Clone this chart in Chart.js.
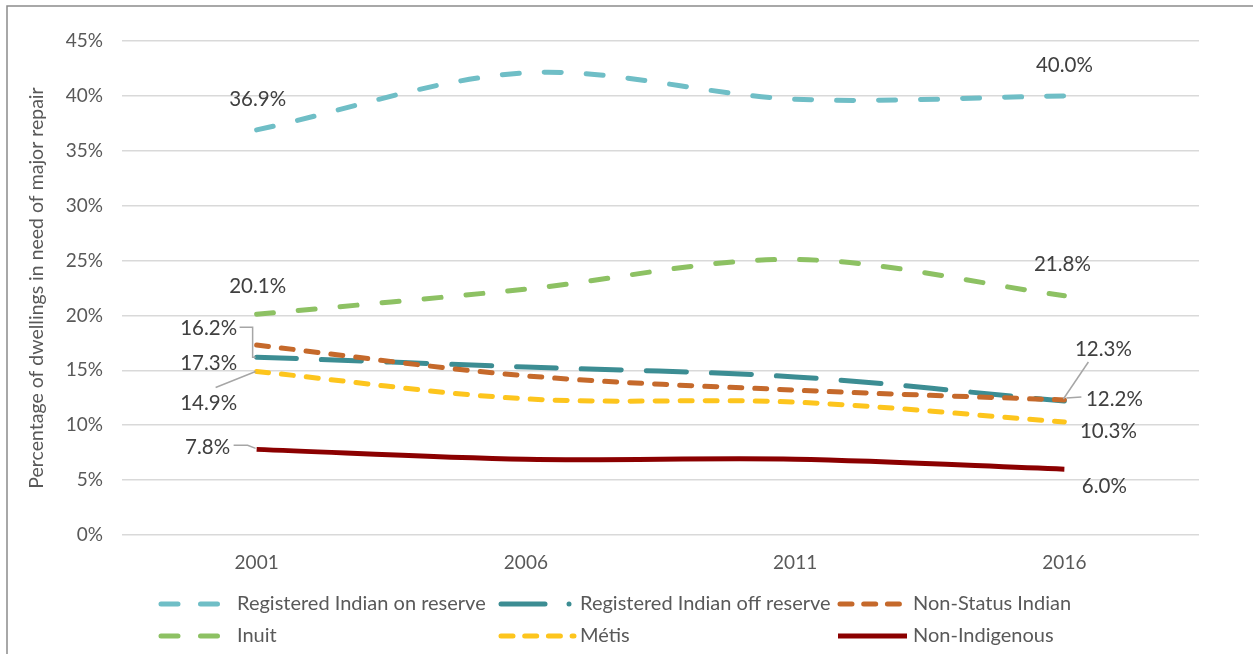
<!DOCTYPE html>
<html>
<head>
<meta charset="utf-8">
<script src="https://cdn.jsdelivr.net/npm/chart.js@4.4.1/dist/chart.umd.min.js"></script>
<style>
  html, body { margin: 0; padding: 0; background: #fff; }
  #wrap { width: 1253px; height: 654px; position: relative; }
</style>
</head>
<body>
<div id="wrap"><canvas id="chart"></canvas></div>
<script>
// data
const years = ['2001', '2006', '2011', '2016'];
const seriesNames = [
  'Registered Indian on reserve',
  'Registered Indian off reserve',
  'Non-Status Indian',
  'Inuit',
  'Métis',
  'Non-Indigenous'
];
const onReserve     = [36.9, 42.1, 39.7, 40.0];
const offReserve    = [16.2, 15.3, 14.4, 12.2];
const nonStatus     = [17.3, 14.5, 13.2, 12.3];
const inuit         = [20.1, 22.4, 25.1, 21.8];
const metis         = [14.9, 12.4, 12.1, 10.3];
const nonIndigenous = [7.8, 6.9, 6.9, 6.0];
const yTicks = [0, 5, 10, 15, 20, 25, 30, 35, 40, 45];

const FONT = 'Lato';
const TEXT = '#595959';

// line looks per series
const looks = [
  { color: '#6FBEC6', dash: [17, 25] },
  { color: '#3C8D93', dash: [40, 25], dot: true },
  { color: '#C5692B', dash: [12, 13] },
  { color: '#8DC163', dash: [17, 25] },
  { color: '#FDC51D', dash: [12, 13] },
  { color: '#8B0000', dash: [] }
];

// label offsets from the first / last point, with optional leader lines
const labelPlace = [
  { first: { dx: 1, dy: -31 }, last: { dx: 0, dy: -30 } },
  { first: { dx: -48, dy: -29, leader: [[-17, -30], [-4, -30], [-4, 0], [-1, 0]] },
    last: { dx: 50, dy: -2, leader: [[2, -3], [17, -4]] } },
  { first: { dx: -48, dy: 18 },
    last: { dx: 39, dy: -51, leader: [[24, -38], [-1, -1]] } },
  { first: { dx: 1, dy: -28 }, last: { dx: -2, dy: -31 } },
  { first: { dx: -48, dy: 32, leader: [[-41, 16], [-1, 0]] }, last: { dx: 44, dy: 9 } },
  { first: { dx: -49, dy: -2, leader: [[-23, -4], [-9, -4], [-1, -1]] }, last: { dx: 40, dy: 17 } }
];

const allSeries = [onReserve, offReserve, nonStatus, inuit, metis, nonIndigenous];

const datasets = allSeries.map((vals, i) => ({
  label: seriesNames[i],
  data: vals,
  borderColor: looks[i].color,
  backgroundColor: looks[i].color,
  borderWidth: 5,
  borderDash: looks[i].dash,
  borderCapStyle: looks[i].dash.length ? 'round' : 'butt',
  borderJoinStyle: 'round',
  pointRadius: 0,
  pointHoverRadius: 0,
  tension: 0.33,
  fill: false,
  order: allSeries.length - i
}));

const dataLabels = {
  id: 'dataLabels',
  afterDatasetsDraw(chart) {
    const ctx = chart.ctx;
    ctx.save();
    chart.data.datasets.forEach((ds, i) => {
      const meta = chart.getDatasetMeta(i);
      const ends = [['first', 0], ['last', ds.data.length - 1]];
      ends.forEach(([key, idx]) => {
        const p = meta.data[idx];
        const pl = labelPlace[i][key];
        if (pl.leader) {
          ctx.strokeStyle = '#A6A6A6';
          ctx.lineWidth = 1.5;
          ctx.setLineDash([]);
          ctx.beginPath();
          pl.leader.forEach(([lx, ly], k) => {
            if (k === 0) ctx.moveTo(p.x + lx, p.y + ly);
            else ctx.lineTo(p.x + lx, p.y + ly);
          });
          ctx.stroke();
        }
        ctx.fillStyle = '#404040';
        ctx.font = '20.5px ' + FONT;
        ctx.textAlign = 'center';
        ctx.textBaseline = 'middle';
        ctx.fillText(ds.data[idx].toFixed(1) + '%', p.x + pl.dx, p.y + pl.dy);
      });
    });
    ctx.restore();
  }
};

// three-column legend and the chart frame
const legendCols = [{ sym: 159, text: 237 }, { sym: 499, text: 580 }, { sym: 838, text: 913 }];
const legendRows = [604, 636];

const legendAndFrame = {
  id: 'legendAndFrame',
  afterDraw(chart) {
    const ctx = chart.ctx;
    ctx.save();
    chart.data.datasets.forEach((ds, i) => {
      const col = legendCols[i % 3];
      const y = legendRows[Math.floor(i / 3)];
      const look = looks[i];
      ctx.strokeStyle = look.color;
      ctx.lineWidth = 5;
      ctx.lineCap = look.dash.length ? 'round' : 'butt';
      if (look.dot) {
        ctx.setLineDash([]);
        ctx.lineCap = 'round';
        ctx.beginPath();
        ctx.moveTo(col.sym + 2, y);
        ctx.lineTo(col.sym + 46, y);
        ctx.stroke();
        ctx.fillStyle = look.color;
        ctx.beginPath();
        ctx.arc(col.sym + 70, y, 2.5, 0, Math.PI * 2);
        ctx.fill();
      } else {
        ctx.setLineDash(look.dash.length ? [look.dash[0], look.dash[1] * 0.9] : []);
        ctx.beginPath();
        ctx.moveTo(col.sym + (look.dash.length ? 2 : 0), y);
        ctx.lineTo(col.text - 6, y);
        ctx.stroke();
      }
      ctx.setLineDash([]);
      ctx.fillStyle = TEXT;
      ctx.font = '20px ' + FONT;
      ctx.textAlign = 'left';
      ctx.textBaseline = 'middle';
      ctx.fillText(ds.label, col.text, y);
    });
    // outer frame (top and left edges show in the crop)
    ctx.strokeStyle = '#8C8C8C';
    ctx.lineWidth = 1.5;
    ctx.beginPath();
    ctx.moveTo(7, chart.height);
    ctx.lineTo(7, 6);
    ctx.lineTo(chart.width, 6);
    ctx.stroke();
    ctx.restore();
  }
};

new Chart(document.getElementById('chart'), {
  type: 'line',
  data: { labels: years, datasets: datasets },
  options: {
    responsive: true,
    maintainAspectRatio: false,
    animation: false,
    layout: { padding: { top: 41, right: 54, bottom: 0, left: 0 } },
    plugins: {
      legend: { display: false },
      tooltip: { enabled: false }
    },
    scales: {
      x: {
        offset: true,
        grid: { display: false, drawTicks: false },
        border: { display: false },
        ticks: { color: TEXT, font: { family: FONT, size: 19 }, padding: 16 },
        afterFit(scale) { scale.height = 119; }
      },
      y: {
        min: 0,
        max: 45,
        afterBuildTicks(scale) { scale.ticks = yTicks.map(v => ({ value: v })); },
        grid: { color: '#D9D9D9', lineWidth: 1.5, drawTicks: false },
        border: { display: false },
        ticks: {
          color: TEXT,
          font: { family: FONT, size: 19 },
          padding: 19,
          callback: v => v + '%'
        },
        title: {
          display: true,
          text: 'Percentage of dwellings in need of major repair',
          color: TEXT,
          font: { family: FONT, size: 19.5 },
          padding: { top: 25, bottom: 4 }
        },
        afterFit(scale) { scale.width = 122; }
      }
    }
  },
  plugins: [dataLabels, legendAndFrame]
});
</script>
</body>
</html>
